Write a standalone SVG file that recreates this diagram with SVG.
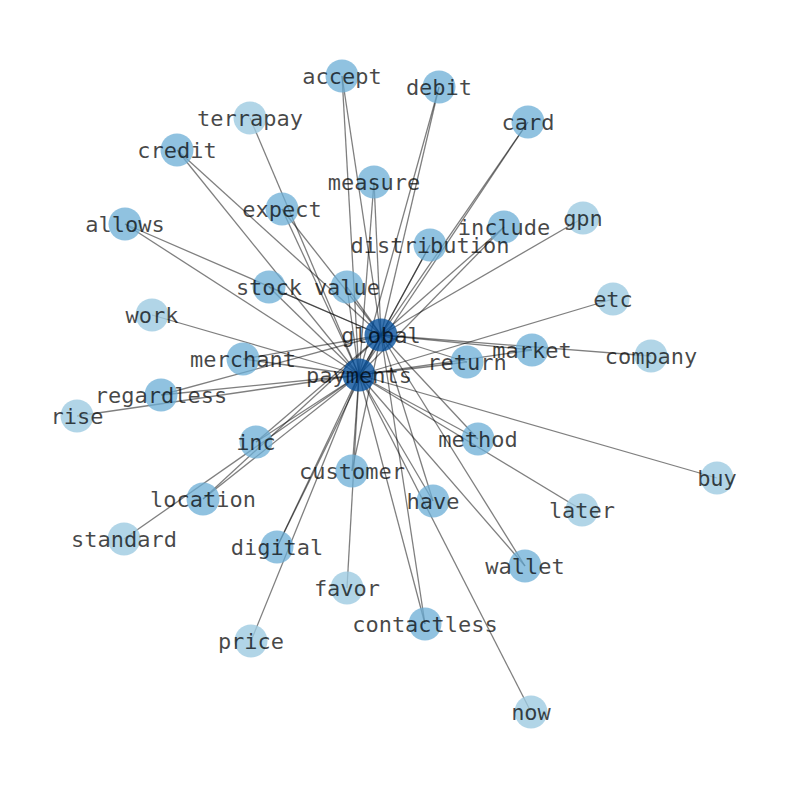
<svg xmlns="http://www.w3.org/2000/svg" width="794" height="790" viewBox="0 0 794 790">
<style>
.e{stroke:#000;stroke-opacity:0.5;stroke-width:1.3;fill:none}
circle{r:16.5px}
.n1{fill:#9ecae1;fill-opacity:0.8}
.n2{fill:#6baed6;fill-opacity:0.75}
.n3{fill:#08519c;fill-opacity:0.8}
text{font-family:"DejaVu Sans Mono","Liberation Mono",monospace;font-size:22px;fill:#000;fill-opacity:0.72;text-anchor:middle;dominant-baseline:central}
</style>
<rect width="794" height="790" fill="#fff"/>
<g id="edges">
<line class="e" x1="381" y1="335" x2="359" y2="375"/>
<line class="e" x1="381" y1="335" x2="342" y2="76"/>
<line class="e" x1="381" y1="335" x2="439" y2="87"/>
<line class="e" x1="381" y1="335" x2="528" y2="122"/>
<line class="e" x1="381" y1="335" x2="177" y2="150"/>
<line class="e" x1="381" y1="335" x2="374" y2="182"/>
<line class="e" x1="381" y1="335" x2="282" y2="209"/>
<line class="e" x1="381" y1="335" x2="125" y2="224"/>
<line class="e" x1="381" y1="335" x2="504" y2="227"/>
<line class="e" x1="381" y1="335" x2="583" y2="218"/>
<line class="e" x1="381" y1="335" x2="430" y2="245"/>
<line class="e" x1="381" y1="335" x2="269" y2="287"/>
<line class="e" x1="381" y1="335" x2="347" y2="287"/>
<line class="e" x1="381" y1="335" x2="243" y2="359"/>
<line class="e" x1="381" y1="335" x2="532" y2="350"/>
<line class="e" x1="381" y1="335" x2="651" y2="356"/>
<line class="e" x1="381" y1="335" x2="467" y2="362"/>
<line class="e" x1="381" y1="335" x2="161" y2="395"/>
<line class="e" x1="381" y1="335" x2="256" y2="442"/>
<line class="e" x1="381" y1="335" x2="478" y2="439"/>
<line class="e" x1="381" y1="335" x2="352" y2="471"/>
<line class="e" x1="381" y1="335" x2="203" y2="499"/>
<line class="e" x1="381" y1="335" x2="433" y2="501"/>
<line class="e" x1="381" y1="335" x2="277" y2="547"/>
<line class="e" x1="381" y1="335" x2="525" y2="566"/>
<line class="e" x1="381" y1="335" x2="425" y2="624"/>
<line class="e" x1="359" y1="375" x2="342" y2="76"/>
<line class="e" x1="359" y1="375" x2="439" y2="87"/>
<line class="e" x1="359" y1="375" x2="250" y2="118"/>
<line class="e" x1="359" y1="375" x2="528" y2="122"/>
<line class="e" x1="359" y1="375" x2="177" y2="150"/>
<line class="e" x1="359" y1="375" x2="374" y2="182"/>
<line class="e" x1="359" y1="375" x2="282" y2="209"/>
<line class="e" x1="359" y1="375" x2="125" y2="224"/>
<line class="e" x1="359" y1="375" x2="504" y2="227"/>
<line class="e" x1="359" y1="375" x2="430" y2="245"/>
<line class="e" x1="359" y1="375" x2="269" y2="287"/>
<line class="e" x1="359" y1="375" x2="347" y2="287"/>
<line class="e" x1="359" y1="375" x2="152" y2="315"/>
<line class="e" x1="359" y1="375" x2="613" y2="299"/>
<line class="e" x1="359" y1="375" x2="243" y2="359"/>
<line class="e" x1="359" y1="375" x2="532" y2="350"/>
<line class="e" x1="359" y1="375" x2="467" y2="362"/>
<line class="e" x1="359" y1="375" x2="161" y2="395"/>
<line class="e" x1="359" y1="375" x2="77" y2="416"/>
<line class="e" x1="359" y1="375" x2="256" y2="442"/>
<line class="e" x1="359" y1="375" x2="478" y2="439"/>
<line class="e" x1="359" y1="375" x2="717" y2="478"/>
<line class="e" x1="359" y1="375" x2="352" y2="471"/>
<line class="e" x1="359" y1="375" x2="203" y2="499"/>
<line class="e" x1="359" y1="375" x2="433" y2="501"/>
<line class="e" x1="359" y1="375" x2="582" y2="510"/>
<line class="e" x1="359" y1="375" x2="124" y2="539"/>
<line class="e" x1="359" y1="375" x2="277" y2="547"/>
<line class="e" x1="359" y1="375" x2="525" y2="566"/>
<line class="e" x1="359" y1="375" x2="347" y2="588"/>
<line class="e" x1="359" y1="375" x2="425" y2="624"/>
<line class="e" x1="359" y1="375" x2="251" y2="641"/>
<line class="e" x1="359" y1="375" x2="531" y2="712"/>
</g>
<g id="n-accept"><circle class="n2" cx="342" cy="76" r="16.5"/><text x="342" y="76">accept</text></g>
<g id="n-debit"><circle class="n2" cx="439" cy="87" r="16.5"/><text x="439" y="87">debit</text></g>
<g id="n-terrapay"><circle class="n1" cx="250" cy="118" r="16.5"/><text x="250" y="118">terrapay</text></g>
<g id="n-card"><circle class="n2" cx="528" cy="122" r="16.5"/><text x="528" y="122">card</text></g>
<g id="n-credit"><circle class="n2" cx="177" cy="150" r="16.5"/><text x="177" y="150">credit</text></g>
<g id="n-measure"><circle class="n2" cx="374" cy="182" r="16.5"/><text x="374" y="182">measure</text></g>
<g id="n-expect"><circle class="n2" cx="282" cy="209" r="16.5"/><text x="282" y="209">expect</text></g>
<g id="n-allows"><circle class="n2" cx="125" cy="224" r="16.5"/><text x="125" y="224">allows</text></g>
<g id="n-gpn"><circle class="n1" cx="583" cy="218" r="16.5"/><text x="583" y="218">gpn</text></g>
<g id="n-include"><circle class="n2" cx="504" cy="227" r="16.5"/><text x="504" y="227">include</text></g>
<g id="n-distribution"><circle class="n2" cx="430" cy="245" r="16.5"/><text x="430" y="245">distribution</text></g>
<g id="n-stock"><circle class="n2" cx="269" cy="287" r="16.5"/><text x="269" y="287">stock</text></g>
<g id="n-value"><circle class="n2" cx="347" cy="287" r="16.5"/><text x="347" y="287">value</text></g>
<g id="n-work"><circle class="n1" cx="152" cy="315" r="16.5"/><text x="152" y="315">work</text></g>
<g id="n-etc"><circle class="n1" cx="613" cy="299" r="16.5"/><text x="613" y="299">etc</text></g>
<g id="n-merchant"><circle class="n2" cx="243" cy="359" r="16.5"/><text x="243" y="359">merchant</text></g>
<g id="n-market"><circle class="n2" cx="532" cy="350" r="16.5"/><text x="532" y="350">market</text></g>
<g id="n-company"><circle class="n1" cx="651" cy="356" r="16.5"/><text x="651" y="356">company</text></g>
<g id="n-return"><circle class="n2" cx="467" cy="362" r="16.5"/><text x="467" y="362">return</text></g>
<g id="n-regardless"><circle class="n2" cx="161" cy="395" r="16.5"/><text x="161" y="395">regardless</text></g>
<g id="n-rise"><circle class="n1" cx="77" cy="416" r="16.5"/><text x="77" y="416">rise</text></g>
<g id="n-inc"><circle class="n2" cx="256" cy="442" r="16.5"/><text x="256" y="442">inc</text></g>
<g id="n-method"><circle class="n2" cx="478" cy="439" r="16.5"/><text x="478" y="439">method</text></g>
<g id="n-buy"><circle class="n1" cx="717" cy="478" r="16.5"/><text x="717" y="478">buy</text></g>
<g id="n-customer"><circle class="n2" cx="352" cy="471" r="16.5"/><text x="352" y="471">customer</text></g>
<g id="n-location"><circle class="n2" cx="203" cy="499" r="16.5"/><text x="203" y="499">location</text></g>
<g id="n-have"><circle class="n2" cx="433" cy="501" r="16.5"/><text x="433" y="501">have</text></g>
<g id="n-later"><circle class="n1" cx="582" cy="510" r="16.5"/><text x="582" y="510">later</text></g>
<g id="n-standard"><circle class="n1" cx="124" cy="539" r="16.5"/><text x="124" y="539">standard</text></g>
<g id="n-digital"><circle class="n2" cx="277" cy="547" r="16.5"/><text x="277" y="547">digital</text></g>
<g id="n-wallet"><circle class="n2" cx="525" cy="566" r="16.5"/><text x="525" y="566">wallet</text></g>
<g id="n-favor"><circle class="n1" cx="347" cy="588" r="16.5"/><text x="347" y="588">favor</text></g>
<g id="n-contactless"><circle class="n2" cx="425" cy="624" r="16.5"/><text x="425" y="624">contactless</text></g>
<g id="n-price"><circle class="n1" cx="251" cy="641" r="16.5"/><text x="251" y="641">price</text></g>
<g id="n-now"><circle class="n1" cx="531" cy="712" r="16.5"/><text x="531" y="712">now</text></g>
<g id="n-global"><circle class="n3" cx="381" cy="335" r="16.5"/><text x="381" y="335">global</text></g>
<g id="n-payments"><circle class="n3" cx="359" cy="375" r="16.5"/><text x="359" y="375">payments</text></g>
</svg>
